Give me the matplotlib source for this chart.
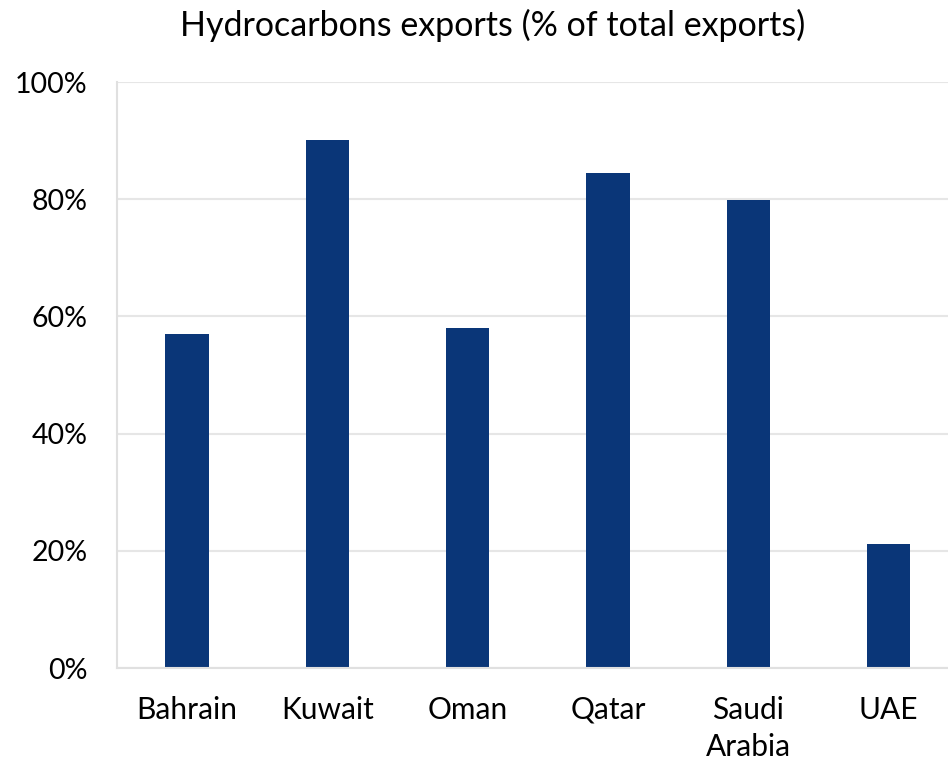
import matplotlib
matplotlib.use("Agg")
import matplotlib.pyplot as plt
from matplotlib.ticker import PercentFormatter

countries = ["Bahrain", "Kuwait", "Oman", "Qatar", "Saudi\nArabia", "UAE"]
hydro_share = [57.0, 90.1, 58.0, 84.5, 79.9, 21.2]

plt.rcParams['font.family'] = ['Lato', 'DejaVu Sans']

fig = plt.figure(figsize=(9.48, 7.61), dpi=100)
ax = fig.add_axes([0.1234, 0.1222, 0.888, 0.77])

xs = range(len(countries))
ax.bar(xs, hydro_share, width=0.31, color='#0A3678', zorder=2)

ax.set_xlim(-0.5, 5.5)
ax.set_ylim(0, 100)
ax.set_yticks(range(0, 101, 20))
ax.yaxis.set_major_formatter(PercentFormatter(decimals=0))
ax.set_xticks(list(xs))
ax.set_xticklabels(countries, linespacing=1.4)
ax.yaxis.grid(True, color='#E6E6E6', linewidth=1.5, zorder=1)

for side in ['top', 'right']:
    ax.spines[side].set_visible(False)
for side in ['left', 'bottom']:
    ax.spines[side].set_color('#E0E0E0')
    ax.spines[side].set_linewidth(1.5)

ax.tick_params(axis='both', length=0, labelsize=21.5, colors='black')
ax.tick_params(axis='y', labelsize=20.5, pad=21)
ax.tick_params(axis='x', pad=20)

fig.suptitle("Hydrocarbons exports (% of total exports)", fontsize=24.5,
             x=0.52, y=0.967, va='center')

fig.savefig("out.png", dpi=100)
